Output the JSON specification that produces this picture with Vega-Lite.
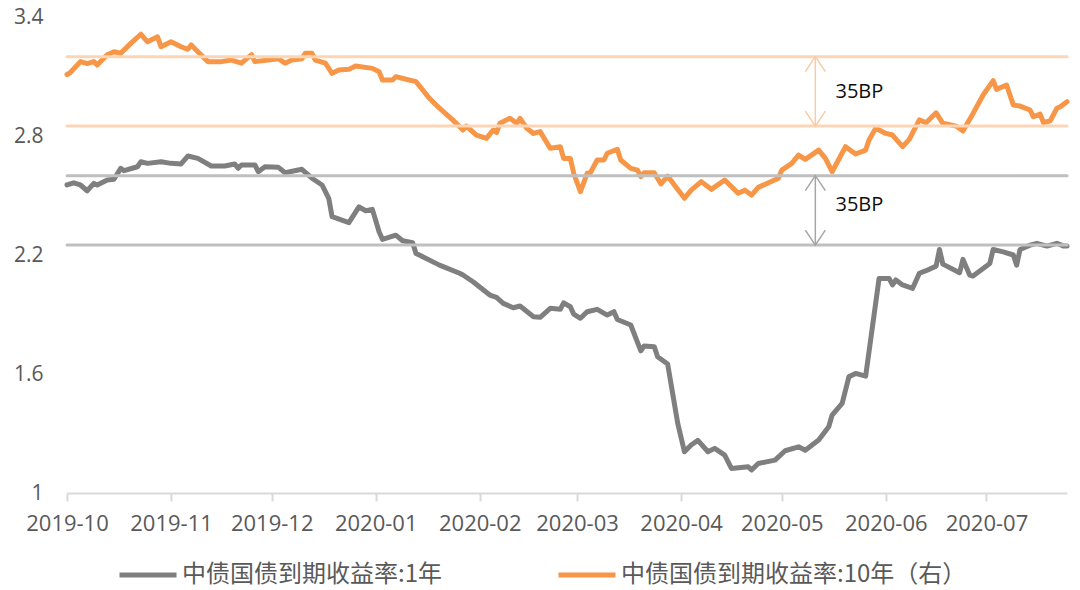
{
  "$schema": "https://vega.github.io/schema/vega-lite/v6.json",
  "width": 1000,
  "height": 476,
  "autosize": "none",
  "padding": {"left": 67, "top": 17, "right": 13, "bottom": 97},
  "background": "white",
  "config": {"view": {"stroke": null}},
  "datasets": {
    "series": [
      {"date": "2019-10-01", "series": "1Y", "value": 2.553},
      {"date": "2019-10-03", "series": "1Y", "value": 2.564},
      {"date": "2019-10-05", "series": "1Y", "value": 2.553},
      {"date": "2019-10-07", "series": "1Y", "value": 2.524},
      {"date": "2019-10-09", "series": "1Y", "value": 2.561},
      {"date": "2019-10-10", "series": "1Y", "value": 2.553},
      {"date": "2019-10-13", "series": "1Y", "value": 2.578},
      {"date": "2019-10-15", "series": "1Y", "value": 2.582},
      {"date": "2019-10-17", "series": "1Y", "value": 2.637},
      {"date": "2019-10-18", "series": "1Y", "value": 2.625},
      {"date": "2019-10-22", "series": "1Y", "value": 2.645},
      {"date": "2019-10-23", "series": "1Y", "value": 2.67},
      {"date": "2019-10-25", "series": "1Y", "value": 2.662},
      {"date": "2019-10-29", "series": "1Y", "value": 2.67},
      {"date": "2019-11-01", "series": "1Y", "value": 2.662},
      {"date": "2019-11-04", "series": "1Y", "value": 2.659},
      {"date": "2019-11-06", "series": "1Y", "value": 2.699},
      {"date": "2019-11-09", "series": "1Y", "value": 2.687},
      {"date": "2019-11-13", "series": "1Y", "value": 2.649},
      {"date": "2019-11-17", "series": "1Y", "value": 2.649},
      {"date": "2019-11-20", "series": "1Y", "value": 2.659},
      {"date": "2019-11-21", "series": "1Y", "value": 2.637},
      {"date": "2019-11-22", "series": "1Y", "value": 2.654},
      {"date": "2019-11-26", "series": "1Y", "value": 2.654},
      {"date": "2019-11-27", "series": "1Y", "value": 2.62},
      {"date": "2019-11-29", "series": "1Y", "value": 2.645},
      {"date": "2019-12-03", "series": "1Y", "value": 2.642},
      {"date": "2019-12-05", "series": "1Y", "value": 2.615},
      {"date": "2019-12-10", "series": "1Y", "value": 2.632},
      {"date": "2019-12-13", "series": "1Y", "value": 2.587},
      {"date": "2019-12-16", "series": "1Y", "value": 2.553},
      {"date": "2019-12-18", "series": "1Y", "value": 2.486},
      {"date": "2019-12-19", "series": "1Y", "value": 2.393},
      {"date": "2019-12-24", "series": "1Y", "value": 2.363},
      {"date": "2019-12-27", "series": "1Y", "value": 2.443},
      {"date": "2019-12-29", "series": "1Y", "value": 2.423},
      {"date": "2019-12-31", "series": "1Y", "value": 2.43},
      {"date": "2020-01-02", "series": "1Y", "value": 2.317},
      {"date": "2020-01-03", "series": "1Y", "value": 2.279},
      {"date": "2020-01-07", "series": "1Y", "value": 2.3},
      {"date": "2020-01-09", "series": "1Y", "value": 2.272},
      {"date": "2020-01-12", "series": "1Y", "value": 2.262},
      {"date": "2020-01-13", "series": "1Y", "value": 2.208},
      {"date": "2020-01-14", "series": "1Y", "value": 2.2},
      {"date": "2020-01-15", "series": "1Y", "value": 2.191},
      {"date": "2020-01-20", "series": "1Y", "value": 2.149},
      {"date": "2020-01-26", "series": "1Y", "value": 2.108},
      {"date": "2020-01-27", "series": "1Y", "value": 2.099},
      {"date": "2020-01-30", "series": "1Y", "value": 2.065},
      {"date": "2020-02-04", "series": "1Y", "value": 1.998},
      {"date": "2020-02-06", "series": "1Y", "value": 1.986},
      {"date": "2020-02-08", "series": "1Y", "value": 1.956},
      {"date": "2020-02-11", "series": "1Y", "value": 1.934},
      {"date": "2020-02-13", "series": "1Y", "value": 1.943},
      {"date": "2020-02-17", "series": "1Y", "value": 1.889},
      {"date": "2020-02-19", "series": "1Y", "value": 1.886},
      {"date": "2020-02-22", "series": "1Y", "value": 1.931},
      {"date": "2020-02-25", "series": "1Y", "value": 1.926},
      {"date": "2020-02-26", "series": "1Y", "value": 1.959},
      {"date": "2020-02-28", "series": "1Y", "value": 1.939},
      {"date": "2020-02-29", "series": "1Y", "value": 1.902},
      {"date": "2020-03-02", "series": "1Y", "value": 1.881},
      {"date": "2020-03-04", "series": "1Y", "value": 1.914},
      {"date": "2020-03-07", "series": "1Y", "value": 1.926},
      {"date": "2020-03-10", "series": "1Y", "value": 1.897},
      {"date": "2020-03-12", "series": "1Y", "value": 1.914},
      {"date": "2020-03-13", "series": "1Y", "value": 1.875},
      {"date": "2020-03-17", "series": "1Y", "value": 1.847},
      {"date": "2020-03-20", "series": "1Y", "value": 1.717},
      {"date": "2020-03-21", "series": "1Y", "value": 1.741},
      {"date": "2020-03-24", "series": "1Y", "value": 1.738},
      {"date": "2020-03-25", "series": "1Y", "value": 1.687},
      {"date": "2020-03-28", "series": "1Y", "value": 1.65},
      {"date": "2020-03-31", "series": "1Y", "value": 1.351},
      {"date": "2020-04-02", "series": "1Y", "value": 1.208},
      {"date": "2020-04-04", "series": "1Y", "value": 1.242},
      {"date": "2020-04-06", "series": "1Y", "value": 1.265},
      {"date": "2020-04-09", "series": "1Y", "value": 1.208},
      {"date": "2020-04-11", "series": "1Y", "value": 1.225},
      {"date": "2020-04-14", "series": "1Y", "value": 1.191},
      {"date": "2020-04-16", "series": "1Y", "value": 1.124},
      {"date": "2020-04-21", "series": "1Y", "value": 1.132},
      {"date": "2020-04-22", "series": "1Y", "value": 1.116},
      {"date": "2020-04-24", "series": "1Y", "value": 1.149},
      {"date": "2020-04-29", "series": "1Y", "value": 1.166},
      {"date": "2020-05-02", "series": "1Y", "value": 1.213},
      {"date": "2020-05-06", "series": "1Y", "value": 1.233},
      {"date": "2020-05-08", "series": "1Y", "value": 1.216},
      {"date": "2020-05-12", "series": "1Y", "value": 1.267},
      {"date": "2020-05-15", "series": "1Y", "value": 1.334},
      {"date": "2020-05-16", "series": "1Y", "value": 1.393},
      {"date": "2020-05-19", "series": "1Y", "value": 1.452},
      {"date": "2020-05-21", "series": "1Y", "value": 1.586},
      {"date": "2020-05-23", "series": "1Y", "value": 1.603},
      {"date": "2020-05-26", "series": "1Y", "value": 1.589},
      {"date": "2020-05-30", "series": "1Y", "value": 2.082},
      {"date": "2020-06-02", "series": "1Y", "value": 2.082},
      {"date": "2020-06-03", "series": "1Y", "value": 2.049},
      {"date": "2020-06-04", "series": "1Y", "value": 2.074},
      {"date": "2020-06-06", "series": "1Y", "value": 2.049},
      {"date": "2020-06-09", "series": "1Y", "value": 2.032},
      {"date": "2020-06-11", "series": "1Y", "value": 2.108},
      {"date": "2020-06-13", "series": "1Y", "value": 2.121},
      {"date": "2020-06-16", "series": "1Y", "value": 2.144},
      {"date": "2020-06-17", "series": "1Y", "value": 2.228},
      {"date": "2020-06-18", "series": "1Y", "value": 2.154},
      {"date": "2020-06-23", "series": "1Y", "value": 2.111},
      {"date": "2020-06-24", "series": "1Y", "value": 2.178},
      {"date": "2020-06-26", "series": "1Y", "value": 2.099},
      {"date": "2020-06-27", "series": "1Y", "value": 2.094},
      {"date": "2020-07-01", "series": "1Y", "value": 2.144},
      {"date": "2020-07-02", "series": "1Y", "value": 2.158},
      {"date": "2020-07-03", "series": "1Y", "value": 2.228},
      {"date": "2020-07-06", "series": "1Y", "value": 2.216},
      {"date": "2020-07-09", "series": "1Y", "value": 2.2},
      {"date": "2020-07-10", "series": "1Y", "value": 2.149},
      {"date": "2020-07-11", "series": "1Y", "value": 2.228},
      {"date": "2020-07-14", "series": "1Y", "value": 2.25},
      {"date": "2020-07-16", "series": "1Y", "value": 2.259},
      {"date": "2020-07-19", "series": "1Y", "value": 2.245},
      {"date": "2020-07-22", "series": "1Y", "value": 2.259},
      {"date": "2020-07-24", "series": "1Y", "value": 2.245},
      {"date": "2020-07-25", "series": "1Y", "value": 2.245},

      {"date": "2019-10-01", "series": "10Y", "value": 3.11},
      {"date": "2019-10-02", "series": "10Y", "value": 3.12},
      {"date": "2019-10-05", "series": "10Y", "value": 3.175},
      {"date": "2019-10-07", "series": "10Y", "value": 3.165},
      {"date": "2019-10-09", "series": "10Y", "value": 3.175},
      {"date": "2019-10-10", "series": "10Y", "value": 3.158},
      {"date": "2019-10-13", "series": "10Y", "value": 3.21},
      {"date": "2019-10-15", "series": "10Y", "value": 3.225},
      {"date": "2019-10-17", "series": "10Y", "value": 3.217},
      {"date": "2019-10-20", "series": "10Y", "value": 3.267},
      {"date": "2019-10-23", "series": "10Y", "value": 3.313},
      {"date": "2019-10-25", "series": "10Y", "value": 3.275},
      {"date": "2019-10-28", "series": "10Y", "value": 3.3},
      {"date": "2019-10-29", "series": "10Y", "value": 3.25},
      {"date": "2019-11-01", "series": "10Y", "value": 3.275},
      {"date": "2019-11-04", "series": "10Y", "value": 3.25},
      {"date": "2019-11-06", "series": "10Y", "value": 3.237},
      {"date": "2019-11-07", "series": "10Y", "value": 3.259},
      {"date": "2019-11-09", "series": "10Y", "value": 3.225},
      {"date": "2019-11-12", "series": "10Y", "value": 3.175},
      {"date": "2019-11-16", "series": "10Y", "value": 3.175},
      {"date": "2019-11-19", "series": "10Y", "value": 3.183},
      {"date": "2019-11-22", "series": "10Y", "value": 3.167},
      {"date": "2019-11-25", "series": "10Y", "value": 3.21},
      {"date": "2019-11-26", "series": "10Y", "value": 3.175},
      {"date": "2019-11-30", "series": "10Y", "value": 3.183},
      {"date": "2019-12-03", "series": "10Y", "value": 3.19},
      {"date": "2019-12-05", "series": "10Y", "value": 3.167},
      {"date": "2019-12-07", "series": "10Y", "value": 3.183},
      {"date": "2019-12-10", "series": "10Y", "value": 3.19},
      {"date": "2019-12-11", "series": "10Y", "value": 3.217},
      {"date": "2019-12-13", "series": "10Y", "value": 3.217},
      {"date": "2019-12-14", "series": "10Y", "value": 3.183},
      {"date": "2019-12-17", "series": "10Y", "value": 3.167},
      {"date": "2019-12-19", "series": "10Y", "value": 3.116},
      {"date": "2019-12-21", "series": "10Y", "value": 3.133},
      {"date": "2019-12-24", "series": "10Y", "value": 3.136},
      {"date": "2019-12-26", "series": "10Y", "value": 3.153},
      {"date": "2019-12-31", "series": "10Y", "value": 3.141},
      {"date": "2020-01-02", "series": "10Y", "value": 3.124},
      {"date": "2020-01-03", "series": "10Y", "value": 3.082},
      {"date": "2020-01-06", "series": "10Y", "value": 3.082},
      {"date": "2020-01-07", "series": "10Y", "value": 3.099},
      {"date": "2020-01-10", "series": "10Y", "value": 3.086},
      {"date": "2020-01-13", "series": "10Y", "value": 3.074},
      {"date": "2020-01-15", "series": "10Y", "value": 3.032},
      {"date": "2020-01-17", "series": "10Y", "value": 2.99},
      {"date": "2020-01-20", "series": "10Y", "value": 2.94},
      {"date": "2020-01-24", "series": "10Y", "value": 2.88},
      {"date": "2020-01-27", "series": "10Y", "value": 2.83},
      {"date": "2020-01-28", "series": "10Y", "value": 2.85},
      {"date": "2020-01-31", "series": "10Y", "value": 2.805},
      {"date": "2020-02-03", "series": "10Y", "value": 2.788},
      {"date": "2020-02-05", "series": "10Y", "value": 2.83},
      {"date": "2020-02-06", "series": "10Y", "value": 2.817},
      {"date": "2020-02-07", "series": "10Y", "value": 2.864},
      {"date": "2020-02-10", "series": "10Y", "value": 2.889},
      {"date": "2020-02-12", "series": "10Y", "value": 2.864},
      {"date": "2020-02-13", "series": "10Y", "value": 2.889},
      {"date": "2020-02-15", "series": "10Y", "value": 2.839},
      {"date": "2020-02-17", "series": "10Y", "value": 2.813},
      {"date": "2020-02-19", "series": "10Y", "value": 2.822},
      {"date": "2020-02-22", "series": "10Y", "value": 2.738},
      {"date": "2020-02-25", "series": "10Y", "value": 2.746},
      {"date": "2020-02-26", "series": "10Y", "value": 2.687},
      {"date": "2020-02-28", "series": "10Y", "value": 2.687},
      {"date": "2020-02-29", "series": "10Y", "value": 2.612},
      {"date": "2020-03-02", "series": "10Y", "value": 2.519},
      {"date": "2020-03-04", "series": "10Y", "value": 2.612},
      {"date": "2020-03-05", "series": "10Y", "value": 2.615},
      {"date": "2020-03-07", "series": "10Y", "value": 2.679},
      {"date": "2020-03-09", "series": "10Y", "value": 2.679},
      {"date": "2020-03-10", "series": "10Y", "value": 2.713},
      {"date": "2020-03-13", "series": "10Y", "value": 2.733},
      {"date": "2020-03-14", "series": "10Y", "value": 2.679},
      {"date": "2020-03-17", "series": "10Y", "value": 2.637},
      {"date": "2020-03-19", "series": "10Y", "value": 2.628},
      {"date": "2020-03-20", "series": "10Y", "value": 2.595},
      {"date": "2020-03-21", "series": "10Y", "value": 2.615},
      {"date": "2020-03-24", "series": "10Y", "value": 2.615},
      {"date": "2020-03-26", "series": "10Y", "value": 2.558},
      {"date": "2020-03-28", "series": "10Y", "value": 2.598},
      {"date": "2020-03-30", "series": "10Y", "value": 2.553},
      {"date": "2020-04-02", "series": "10Y", "value": 2.486},
      {"date": "2020-04-04", "series": "10Y", "value": 2.527},
      {"date": "2020-04-07", "series": "10Y", "value": 2.57},
      {"date": "2020-04-10", "series": "10Y", "value": 2.531},
      {"date": "2020-04-14", "series": "10Y", "value": 2.578},
      {"date": "2020-04-18", "series": "10Y", "value": 2.511},
      {"date": "2020-04-20", "series": "10Y", "value": 2.527},
      {"date": "2020-04-22", "series": "10Y", "value": 2.502},
      {"date": "2020-04-24", "series": "10Y", "value": 2.541},
      {"date": "2020-04-30", "series": "10Y", "value": 2.587},
      {"date": "2020-05-01", "series": "10Y", "value": 2.628},
      {"date": "2020-05-04", "series": "10Y", "value": 2.662},
      {"date": "2020-05-06", "series": "10Y", "value": 2.704},
      {"date": "2020-05-08", "series": "10Y", "value": 2.682},
      {"date": "2020-05-12", "series": "10Y", "value": 2.729},
      {"date": "2020-05-14", "series": "10Y", "value": 2.687},
      {"date": "2020-05-16", "series": "10Y", "value": 2.62},
      {"date": "2020-05-20", "series": "10Y", "value": 2.746},
      {"date": "2020-05-23", "series": "10Y", "value": 2.709},
      {"date": "2020-05-26", "series": "10Y", "value": 2.729},
      {"date": "2020-05-27", "series": "10Y", "value": 2.78},
      {"date": "2020-05-29", "series": "10Y", "value": 2.839},
      {"date": "2020-06-01", "series": "10Y", "value": 2.813},
      {"date": "2020-06-03", "series": "10Y", "value": 2.805},
      {"date": "2020-06-06", "series": "10Y", "value": 2.746},
      {"date": "2020-06-08", "series": "10Y", "value": 2.783},
      {"date": "2020-06-11", "series": "10Y", "value": 2.881},
      {"date": "2020-06-13", "series": "10Y", "value": 2.867},
      {"date": "2020-06-16", "series": "10Y", "value": 2.917},
      {"date": "2020-06-18", "series": "10Y", "value": 2.864},
      {"date": "2020-06-22", "series": "10Y", "value": 2.85},
      {"date": "2020-06-24", "series": "10Y", "value": 2.825},
      {"date": "2020-06-27", "series": "10Y", "value": 2.914},
      {"date": "2020-06-30", "series": "10Y", "value": 3.007},
      {"date": "2020-07-03", "series": "10Y", "value": 3.079},
      {"date": "2020-07-04", "series": "10Y", "value": 3.035},
      {"date": "2020-07-07", "series": "10Y", "value": 3.057},
      {"date": "2020-07-09", "series": "10Y", "value": 2.956},
      {"date": "2020-07-11", "series": "10Y", "value": 2.951},
      {"date": "2020-07-14", "series": "10Y", "value": 2.931},
      {"date": "2020-07-15", "series": "10Y", "value": 2.897},
      {"date": "2020-07-17", "series": "10Y", "value": 2.91},
      {"date": "2020-07-18", "series": "10Y", "value": 2.867},
      {"date": "2020-07-20", "series": "10Y", "value": 2.877},
      {"date": "2020-07-22", "series": "10Y", "value": 2.94},
      {"date": "2020-07-23", "series": "10Y", "value": 2.948},
      {"date": "2020-07-25", "series": "10Y", "value": 2.973}
    ],
    "refs": [
      {"group": "10Y", "level": 3.2},
      {"group": "10Y", "level": 2.85},
      {"group": "1Y", "level": 2.6},
      {"group": "1Y", "level": 2.25}
    ],
    "spans": [
      {"group": "10Y", "date": "2020-05-11", "top": 3.2, "bottom": 2.85, "labelDate": "2020-05-17", "mid": 3.023, "label": "35BP"},
      {"group": "1Y", "date": "2020-05-11", "top": 2.6, "bottom": 2.25, "labelDate": "2020-05-17", "mid": 2.452, "label": "35BP"}
    ]
  },
  "layer": [
    {
      "data": {"name": "series"},
      "mark": {"type": "line", "strokeWidth": 5, "strokeJoin": "round", "strokeCap": "round"},
      "encoding": {
        "x": {
          "field": "date", "type": "temporal",
          "scale": {"domain": ["2019-10-01", "2020-07-25"]},
          "axis": {
            "title": null, "format": "%Y-%m", "tickCount": {"interval": "month", "step": 1},
            "grid": false, "domainColor": "#D9D9D9", "domainWidth": 2, "tickColor": "#D9D9D9", "tickWidth": 2, "tickSize": 8,
            "labelFont": "Open Sans", "labelFontSize": 22, "labelColor": "#595959", "labelPadding": 12, "labelFlush": false, "labelOverlap": false
          }
        },
        "y": {
          "field": "value", "type": "quantitative",
          "scale": {"domain": [1, 3.4], "nice": false, "zero": false},
          "axis": {
            "title": null, "values": [1, 1.6, 2.2, 2.8, 3.4], "format": "~g", "grid": false, "domain": false, "ticks": false,
            "labelFont": "Open Sans", "labelFontSize": 21, "labelColor": "#595959", "labelPadding": 24
          }
        },
        "color": {
          "field": "series", "type": "nominal",
          "scale": {"domain": ["1Y", "10Y"], "range": ["#7F7F7F", "#F79646"]},
          "legend": {
            "orient": "none", "legendX": 50, "legendY": 527, "direction": "horizontal", "title": null,
            "symbolType": "stroke", "symbolSize": 3249, "symbolStrokeWidth": 5,
            "labelFont": "Noto Sans CJK SC", "labelFontSize": 24, "labelColor": "#595959", "labelOffset": 3,
            "columnPadding": 106, "padding": 0, "labelLimit": 600,
            "labelExpr": "datum.label == '1Y' ? '中债国债到期收益率:1年' : '中债国债到期收益率:10年（右）'"
          }
        }
      }
    },
    {
      "data": {"name": "refs"},
      "transform": [{"filter": "datum.group == '10Y'"}],
      "mark": {"type": "rule", "color": "#FBD5B5", "strokeWidth": 3, "strokeCap": "round"},
      "encoding": {"y": {"field": "level", "type": "quantitative"}}
    },
    {
      "data": {"name": "refs"},
      "transform": [{"filter": "datum.group == '1Y'"}],
      "mark": {"type": "rule", "color": "#BFBFBF", "strokeWidth": 3, "strokeCap": "round"},
      "encoding": {"y": {"field": "level", "type": "quantitative"}}
    },
    {
      "data": {"name": "spans"},
      "transform": [{"filter": "datum.group == '10Y'"}],
      "mark": {"type": "rule", "color": "#F9CBA3", "strokeWidth": 1.5},
      "encoding": {
        "x": {"field": "date", "type": "temporal"},
        "y": {"field": "top", "type": "quantitative"},
        "y2": {"field": "bottom"}
      }
    },
    {
      "data": {"name": "spans"},
      "transform": [{"filter": "datum.group == '1Y'"}],
      "mark": {"type": "rule", "color": "#A6A6A6", "strokeWidth": 1.5},
      "encoding": {
        "x": {"field": "date", "type": "temporal"},
        "y": {"field": "top", "type": "quantitative"},
        "y2": {"field": "bottom"}
      }
    },
    {
      "data": {"name": "spans"},
      "transform": [{"filter": "datum.group == '10Y'"}],
      "mark": {"type": "point", "shape": "M-1,1.5L0,0L1,1.5", "filled": false, "color": "#F9CBA3", "strokeWidth": 1.5, "size": 400, "opacity": 1},
      "encoding": {"x": {"field": "date", "type": "temporal"}, "y": {"field": "top", "type": "quantitative"}}
    },
    {
      "data": {"name": "spans"},
      "transform": [{"filter": "datum.group == '10Y'"}],
      "mark": {"type": "point", "shape": "M-1,-1.5L0,0L1,-1.5", "filled": false, "color": "#F9CBA3", "strokeWidth": 1.5, "size": 400, "opacity": 1},
      "encoding": {"x": {"field": "date", "type": "temporal"}, "y": {"field": "bottom", "type": "quantitative"}}
    },
    {
      "data": {"name": "spans"},
      "transform": [{"filter": "datum.group == '1Y'"}],
      "mark": {"type": "point", "shape": "M-1,1.5L0,0L1,1.5", "filled": false, "color": "#A6A6A6", "strokeWidth": 1.5, "size": 400, "opacity": 1},
      "encoding": {"x": {"field": "date", "type": "temporal"}, "y": {"field": "top", "type": "quantitative"}}
    },
    {
      "data": {"name": "spans"},
      "transform": [{"filter": "datum.group == '1Y'"}],
      "mark": {"type": "point", "shape": "M-1,-1.5L0,0L1,-1.5", "filled": false, "color": "#A6A6A6", "strokeWidth": 1.5, "size": 400, "opacity": 1},
      "encoding": {"x": {"field": "date", "type": "temporal"}, "y": {"field": "bottom", "type": "quantitative"}}
    },
    {
      "data": {"name": "spans"},
      "mark": {"type": "text", "align": "left", "baseline": "middle", "font": "Open Sans", "fontSize": 20, "color": "#0D0D0D"},
      "encoding": {
        "x": {"field": "labelDate", "type": "temporal"},
        "y": {"field": "mid", "type": "quantitative"},
        "text": {"field": "label"}
      }
    }
  ]
}
